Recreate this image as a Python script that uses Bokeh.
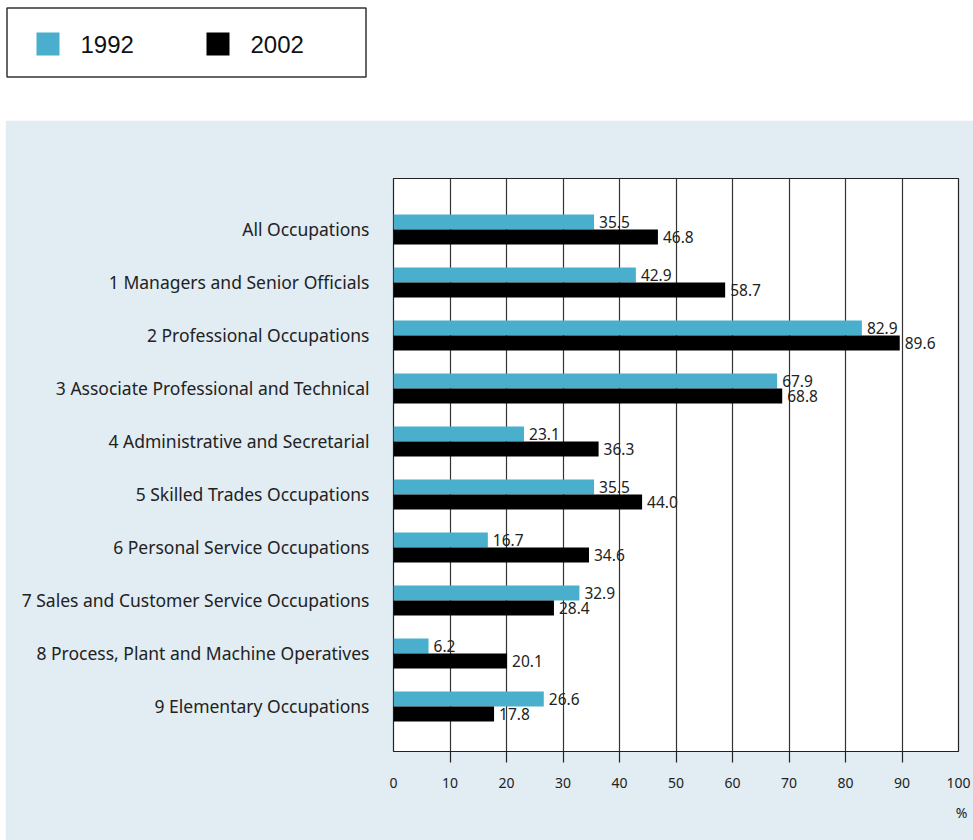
from bokeh.plotting import figure
from bokeh.models import Range1d, FixedTicker, Title, ColumnDataSource
from bokeh.core.properties import value
from bokeh.embed import file_html
from bokeh.resources import INLINE

categories = [
    "All Occupations",
    "1 Managers and Senior Officials",
    "2 Professional Occupations",
    "3 Associate Professional and Technical",
    "4 Administrative and Secretarial",
    "5 Skilled Trades Occupations",
    "6 Personal Service Occupations",
    "7 Sales and Customer Service Occupations",
    "8 Process, Plant and Machine Operatives",
    "9 Elementary Occupations",
]
values_1992 = [35.5, 42.9, 82.9, 67.9, 23.1, 35.5, 16.7, 32.9, 6.2, 26.6]
values_2002 = [46.8, 58.7, 89.6, 68.8, 36.3, 44.0, 34.6, 28.4, 20.1, 17.8]
series_names = ["1992", "2002"]
series_colors = ["#4aafcd", "#000000"]
x_ticks = [0, 10, 20, 30, 40, 50, 60, 70, 80, 90, 100]
unit_label = "%"

FONT = "Noto Sans"
TEXT = "#222222"
PANEL = "#e1ecf3"

# ---------------- legend figure ----------------
lg = figure(width=372, height=120, x_range=Range1d(0, 372), y_range=Range1d(120, 0),
            output_backend="svg", toolbar_location=None, min_border=0,
            background_fill_color="white", border_fill_color="white")
lg.axis.visible = False
lg.grid.visible = False
lg.outline_line_color = None
lg.quad(left=[6.5], right=[365.5], top=[7.5], bottom=[76.5], fill_color="white",
        line_color="#333333", line_width=1.5)
sw_x = [36, 206]
lg.quad(left=sw_x, right=[v + 23 for v in sw_x], top=[32, 32], bottom=[55, 55],
        fill_color=series_colors, line_color=None)
lg.text(x=[v + 44 for v in sw_x], y=[44, 44], text=series_names,
        text_font=value("Liberation Sans"), text_font_size="24px",
        text_color="#111111", text_baseline="middle", text_align="left")

# ---------------- main figure ----------------
n = len(categories)
idx = list(range(n))
p = figure(width=968, height=720, x_range=Range1d(0, 100), y_range=Range1d(9.85, -0.96),
           output_backend="svg", toolbar_location=None,
           min_border_left=388, min_border_right=15, min_border_top=58, min_border_bottom=89,
           background_fill_color="white", border_fill_color=PANEL)
p.margin = (0, 0, 0, 5)
p.outline_line_color = "#222222"
p.outline_line_width = 1.2

bar_h = 0.283
off = bar_h / 2
y1 = [i - off for i in idx]
y2 = [i + off for i in idx]
p.hbar(y=y1, right=values_1992, left=0, height=bar_h, fill_color=series_colors[0], line_color=None)
p.hbar(y=y2, right=values_2002, left=0, height=bar_h, fill_color=series_colors[1], line_color=None)

lab_src1 = ColumnDataSource(dict(x=values_1992, y=y1, t=[f"{v:.1f}" for v in values_1992]))
lab_src2 = ColumnDataSource(dict(x=values_2002, y=y2, t=[f"{v:.1f}" for v in values_2002]))
for src in (lab_src1, lab_src2):
    p.text(x="x", y="y", text="t", source=src, x_offset=5, text_font=value(FONT),
           text_font_size="15.5px", text_color=TEXT, text_baseline="middle", text_align="left")

# x axis
xt = FixedTicker(ticks=x_ticks, minor_ticks=x_ticks[1:-1])
p.xaxis.ticker = xt
p.xaxis.axis_line_color = None
p.xaxis.major_tick_out = 0
p.xaxis.major_tick_in = 0
p.xaxis.minor_tick_out = 11
p.xaxis.minor_tick_in = 0
p.xaxis.minor_tick_line_color = "#222222"
p.xaxis.minor_tick_line_width = 1.2
p.xaxis.major_label_standoff = 15
p.xaxis.major_label_text_font = FONT
p.xaxis.major_label_text_font_size = "14px"
p.xaxis.major_label_text_color = TEXT

# y axis
p.yaxis.ticker = FixedTicker(ticks=idx)
p.yaxis.major_label_overrides = {i: c for i, c in zip(idx, categories)}
p.yaxis.axis_line_color = None
p.yaxis.major_tick_line_color = None
p.yaxis.minor_tick_line_color = None
p.yaxis.major_label_standoff = 18
p.yaxis.major_label_text_font = FONT
p.yaxis.major_label_text_font_size = "17.5px"
p.yaxis.major_label_text_color = TEXT

# grid
p.xgrid.ticker = FixedTicker(ticks=x_ticks)
p.xgrid.grid_line_color = "#333333"
p.xgrid.grid_line_width = 1.2
p.ygrid.visible = False

p.add_layout(Title(text=unit_label, align="right", offset=-9, text_font=FONT,
                   text_font_size="14px", text_font_style="normal", text_color=TEXT,
                   standoff=20), "below")

open("out.html", "w").write(file_html([lg, p], INLINE))
